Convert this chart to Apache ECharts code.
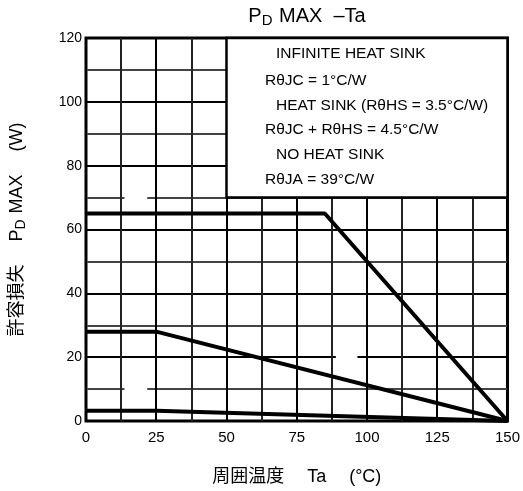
<!DOCTYPE html>
<html>
<head>
<meta charset="utf-8">
<script src="https://cdn.jsdelivr.net/npm/echarts@6/dist/echarts.min.js"></script>
<style>
html, body { margin: 0; padding: 0; background: #fff; }
#chart { width: 523px; height: 491px; }
</style>
</head>
<body>
<div id="chart"></div>
<script>
// 周囲温度 Ta (°C) と許容損失 PD MAX (W)
var infiniteSink = [[0, 65], [85, 65], [150, 0]];
var heatSink = [[0, 28], [25, 28], [150, 0]];
var noSink = [[0, 3.2], [25, 3.2], [150, 0]];
// 凡例ボックスの範囲 (Ta, W)
var boxFrom = [50, 70];
var boxTo = [150, 120];
// グリッド線の切れ目 [Ta開始, Ta終了, W]
var gridGaps = [[13.7, 21.8, 10], [88.9, 96.6, 20], [13.7, 21.8, 70]];
var legendLines = [
	'INFINITE HEAT SINK',
	'RθJC = 1°C/W',
	'HEAT SINK (RθHS = 3.5°C/W)',
	'RθJC + RθHS = 4.5°C/W',
	'NO HEAT SINK',
	'RθJA = 39°C/W'
];

var font = '"Liberation Sans", "Noto Sans CJK JP", sans-serif';
var lineTop = [55, 82, 107, 131, 156, 181];
var lineLeft = [276, 265, 276, 265, 276, 265];

var gapAreas = gridGaps.map(function (g) {
	return [{xAxis: g[0], yAxis: g[2] - 1.2}, {xAxis: g[1], yAxis: g[2] + 1.2}];
});

var myChart = echarts.init(document.getElementById('chart'));
var lineStyle = {color: '#000', width: 4};
var option = {
	animation: false,
	textStyle: {fontFamily: font},
	title: {
		text: 'P{sub|D} MAX  –Ta',
		left: 302,
		top: 0,
		textAlign: 'center',
		textStyle: {
			fontFamily: font,
			fontSize: 20,
			fontWeight: 'normal',
			color: '#000',
			rich: {
				sub: {fontFamily: font, fontSize: 15, color: '#000', padding: [8, 1, 0, 0]}
			}
		}
	},
	grid: {
		left: 84,
		right: 12,
		top: 38,
		bottom: 70,
		show: true,
		borderColor: '#000',
		borderWidth: 3
	},
	xAxis: {
		type: 'value',
		min: 0,
		max: 150,
		interval: 25,
		name: '周囲温度　 Ta　 (°C)',
		nameLocation: 'middle',
		nameGap: 47,
		nameTextStyle: {fontFamily: font, fontSize: 18, color: '#000'},
		axisLine: {show: false},
		axisTick: {show: false},
		axisLabel: {fontFamily: font, fontSize: 15, color: '#000', margin: 9},
		splitLine: {show: true, lineStyle: {color: '#000', width: 2}},
		minorTick: {show: false, splitNumber: 2},
		minorSplitLine: {show: true, lineStyle: {color: '#222', width: 2}}
	},
	yAxis: {
		type: 'value',
		min: 0,
		max: 120,
		interval: 20,
		name: '許容損失　 P{sub|D} MAX　 (W)',
		nameLocation: 'middle',
		nameGap: 58,
		nameTextStyle: {
			fontFamily: font,
			fontSize: 18,
			color: '#000',
			rich: {
				sub: {fontFamily: font, fontSize: 14, color: '#000', padding: [8, 1, 0, 0]}
			}
		},
		axisLine: {show: false},
		axisTick: {show: false},
		axisLabel: {fontFamily: font, fontSize: 14, color: '#000', margin: 4},
		splitLine: {show: true, lineStyle: {color: '#000', width: 2}},
		minorTick: {show: false, splitNumber: 2},
		minorSplitLine: {show: true, lineStyle: {color: '#444', width: 2}}
	},
	series: [
		{
			name: 'INFINITE HEAT SINK',
			type: 'line',
			data: infiniteSink,
			symbol: 'none',
			lineStyle: lineStyle,
			z: 5,
			markArea: {
				silent: true,
				itemStyle: {color: '#fff', borderColor: '#000', borderWidth: 2.5},
				data: [[{xAxis: boxFrom[0], yAxis: boxFrom[1]}, {xAxis: boxTo[0], yAxis: boxTo[1]}]]
			}
		},
		{
			name: 'HEAT SINK',
			type: 'line',
			data: heatSink,
			symbol: 'none',
			lineStyle: lineStyle,
			z: 5,
			markArea: {
				silent: true,
				itemStyle: {color: '#fff', borderWidth: 0},
				data: gapAreas
			}
		},
		{
			name: 'NO HEAT SINK',
			type: 'line',
			data: noSink,
			symbol: 'none',
			lineStyle: lineStyle,
			z: 5
		}
	],
	graphic: legendLines.map(function (t, i) {
		return {
			type: 'text',
			left: lineLeft[i],
			top: lineTop[i] - 9,
			z: 100,
			style: {text: t, fontFamily: font, fontSize: 15.5, fill: '#000'}
		};
	})
};
myChart.setOption(option);
</script>
</body>
</html>
